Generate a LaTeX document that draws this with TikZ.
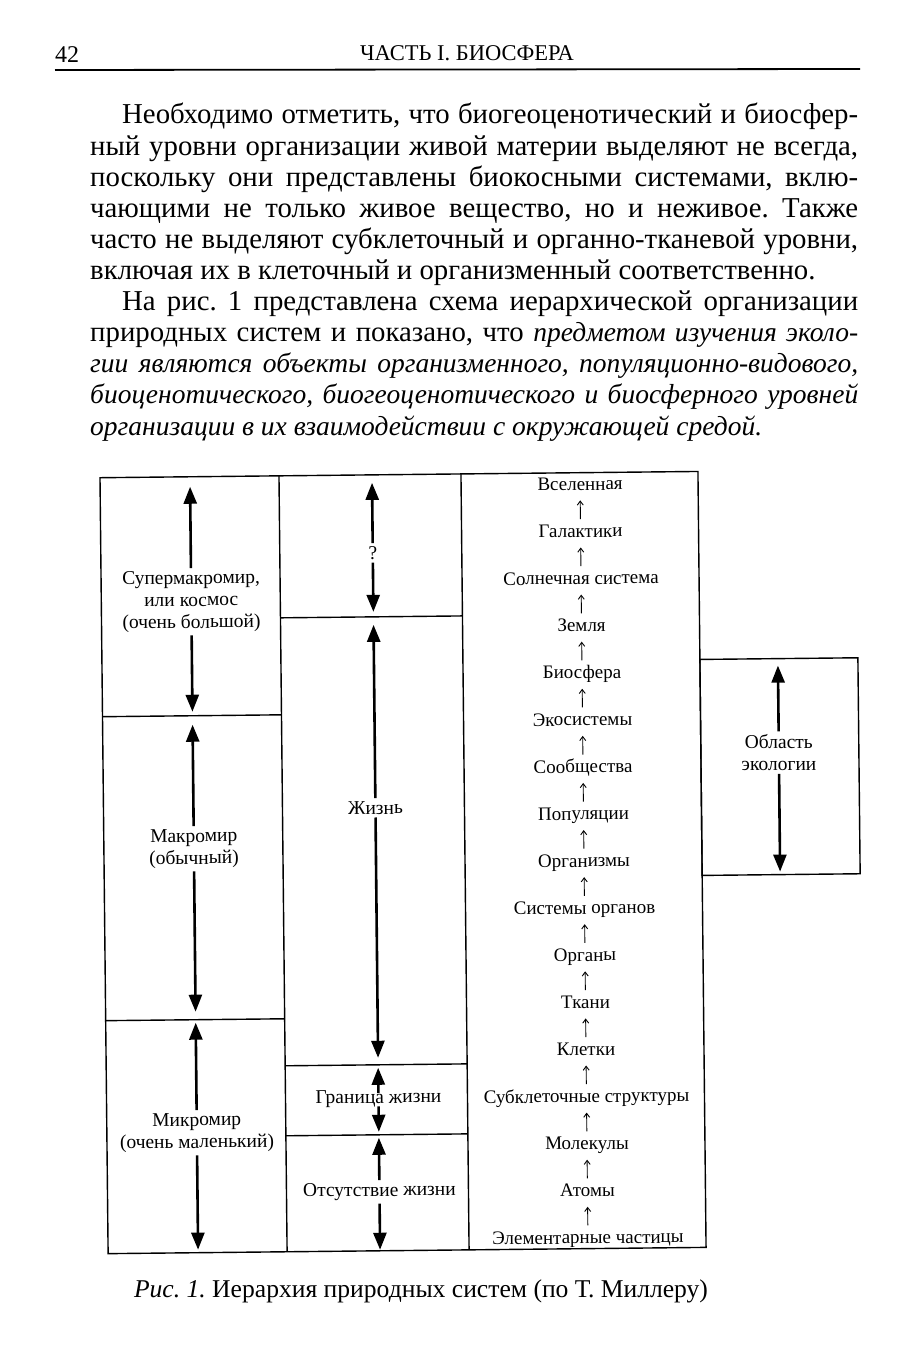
\documentclass[tikz,border=0pt]{standalone}
\usepackage{fontspec}
\setmainfont{Liberation Serif}
\usetikzlibrary{arrows.meta}
\frenchspacing
\newcommand{\itx}{\fontsize{27.5}{31}\selectfont\itshape}
\begin{document}
\begin{tikzpicture}[x=1pt,y=-1pt,
  frame/.style={line width=1.4pt},
  bigarr/.style={line width=2.6pt,-{Triangle[length=17pt,width=13pt]}},
  thinarr/.style={line width=0.9pt,-{Straight Barb[length=4pt,width=6pt]},shorten <=6pt,shorten >=6pt},
  lvl/.style={font=\fontsize{19}{22}\selectfont,inner sep=0pt,text height=12pt,text depth=4pt},
  lab/.style={font=\fontsize{19.5}{22}\selectfont,align=center,inner sep=3pt},
  body/.style={anchor=base west,inner sep=0pt,font=\fontsize{28.8}{31}\selectfont},
]
\useasboundingbox (0,0) rectangle (910,1359);
% header
\node[anchor=base west,inner sep=0pt,font=\fontsize{24}{28}\selectfont] (pg) at (55,63) {42};
\node[anchor=base,inner sep=0pt,font=\fontsize{22.5}{26}\selectfont] (hd) at (467,61) {ЧАСТЬ I. БИОСФЕРА};
\coordinate (rl) at (55,70); \coordinate (rr) at (860,69);
\draw[line width=1.8pt] (rl) -- (rr);
% body text
\node[body] (b0) at (122,124) {\makebox[736pt][s]{Необходимо отметить, что биогеоценотический и биосфер-}};
\node[body] (b1) at (90,155.1) {\makebox[768pt][s]{ный уровни организации живой материи выделяют не всегда,}};
\node[body] (b2) at (90,186.2) {\makebox[768pt][s]{поскольку они представлены биокосными системами, вклю-}};
\node[body] (b3) at (90,217.3) {\makebox[768pt][s]{чающими не только живое вещество, но и неживое. Также}};
\node[body] (b4) at (90,248.4) {\makebox[768pt][s]{часто не выделяют субклеточный и органно-тканевой уровни,}};
\node[body] (b5) at (90,279.5) {включая их в клеточный и организменный соответственно.};
\node[body] (b6) at (122,310.6) {\makebox[736pt][s]{На рис. 1 представлена схема иерархической организации}};
\node[body] (b7) at (90,341.7) {\makebox[768pt][s]{природных систем и показано, что \itx предметом изучения эколо-}};
\node[body] (b8) at (90,372.8) {\makebox[768pt][s]{\itx гии являются объекты организменного, популяционно-видового,}};
\node[body] (b9) at (90,403.9) {\makebox[768pt][s]{\itx биоценотического, биогеоценотического и биосферного уровней}};
\node[body] (b10) at (90,435) {\itx организации в их взаимодействии с окружающей средой.};
% caption
\node[anchor=base,inner sep=0pt,font=\fontsize{25.6}{30}\selectfont] (cap) at (421,1297) {\textit{Рис. 1.} Иерархия природных систем (по Т. Миллеру)};
\begin{scope}[rotate around={0.6:(455,860)},transform shape]
% frame
\draw[frame] (104,474) rectangle (702,1250);
\draw[frame] (283,474) -- (283,1250);
\draw[frame] (465,474) -- (465,1250);
\draw[frame] (104,713) -- (283,713);
\draw[frame] (104,1017) -- (283,1017);
\draw[frame] (283,616) -- (465,616);
\draw[frame] (283,1064) -- (465,1064);
\draw[frame] (283,1134) -- (465,1134);
\draw[frame] (702,662) rectangle (860,878);
% column 3 levels
\foreach \t [count=\i from 0] in {Вселенная,Галактики,Солнечная система,Земля,Биосфера,Экосистемы,Сообщества,Популяции,Организмы,Системы органов,Органы,Ткани,Клетки,Субклеточные структуры,Молекулы,Атомы,Элементарные частицы}
  {\node[lvl] (v\i) at (584,{487.5+47.1*\i}) {\t};}
\foreach \i [evaluate=\i as \j using int(\i-1)] in {1,...,16}
  {\draw[thinarr] (v\i.north) -- (v\j.south);}
% labels
\node[lab] (sm) at (194,599) {Супермакромир,\\или космос\\(очень большой)};
\node[lab] (ma) at (194,846) {Макромир\\(обычный)};
\node[lab] (mi) at (194,1130) {Микромир\\(очень маленький)};
\node[lab] (q) at (376,552) {?};
\node[lab] (zh) at (376,807) {Жизнь};
\node[lab] (gr) at (376,1098) {Граница жизни};
\node[lab] (ot) at (376,1191) {Отсутствие жизни};
\node[lab] (oe) at (780,756) {Область\\экологии};
% arrow tips
\coordinate (smT) at (194,484); \coordinate (smB) at (194,709);
\coordinate (maT) at (194,722); \coordinate (maB) at (194,1009);
\coordinate (miT) at (194,1020); \coordinate (miB) at (194,1247);
\coordinate (qT) at (376,482); \coordinate (qB) at (376,611);
\coordinate (zhT) at (376,624); \coordinate (zhB) at (376,1057);
\coordinate (grT) at (376,1067); \coordinate (grB) at (376,1131);
\coordinate (otT) at (376,1137); \coordinate (otB) at (376,1249);
\coordinate (oeT) at (780,669); \coordinate (oeB) at (780,875);
\foreach \n in {sm,ma,mi,q,zh,ot,oe}
  {\draw[bigarr] (\n) -- (\n T); \draw[bigarr] (\n) -- (\n B);}
\draw[bigarr,shorten <=-6pt] (gr) -- (grT);
\draw[bigarr,shorten <=-4pt] (gr) -- (grB);
\end{scope}
\end{tikzpicture}
\end{document}
